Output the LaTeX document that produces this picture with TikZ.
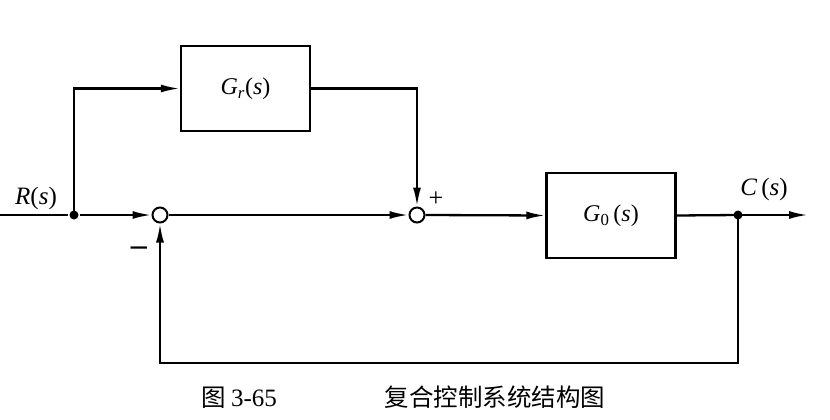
\documentclass[tikz,border=0pt]{standalone}
\usepackage{fontspec}
\newfontfamily\cjk{Noto Sans CJK SC}
\setmainfont{Liberation Serif}
\usetikzlibrary{arrows.meta}
\newcommand{\ivar}[1]{\textit{#1}}
\begin{document}
\begin{tikzpicture}[x=1pt,y=-1pt,line width=2.3pt,
  blk/.style={draw,minimum width=129pt,minimum height=85pt,inner sep=0pt,font=\fontsize{24}{26}\selectfont},
  sumnode/.style={draw,circle,minimum size=15pt,inner sep=0pt,line width=2pt,fill=white},
  dotnode/.style={circle,fill=black,minimum size=9pt,inner sep=0pt},
  lbl/.style={font=\fontsize{25}{27}\selectfont,inner sep=0pt},
  arr/.style={-{Latex[length=19pt,width=8pt]}}]
\useasboundingbox (0,0) rectangle (830,420);
\coordinate (in) at (0,215);
\node[dotnode] (b1) at (74,215) {};
\node[sumnode] (s1) at (160,215) {};
\node[sumnode] (s2) at (417,215) {};
\node[blk] (gr) at (245.5,88.5) {\ivar{G\textsubscript{r}}(\ivar{s})};
\node[blk] (g0) at (611,215.5) {\ivar{G}\textsubscript{0}\,(\ivar{s})};
\node[dotnode] (b2) at (738,215) {};
\coordinate (out) at (808,215);
\coordinate (fb) at (738,363);
\draw (in) -- (b1);
\draw[arr] (b1) -- (s1.west);
\draw[arr] (b1.center) |- (gr.west);
\draw[arr] (gr.east) -| (s2.north);
\draw[arr] (s1.east) -- (s2.west);
\draw[arr] (s2.east) -- (g0.west);
\draw (g0.east) -- (b2.center);
\draw[arr] (b2.center) -- (out);
\draw[arr] (b2.center) -- (fb) -| (s1.south);
\node[lbl] (rl) at (36,198) {\ivar{R}(\ivar{s})};
\node[lbl] (cl) at (764,189) {\ivar{C}\,(\ivar{s})};
\node[lbl,font=\fontsize{32}{34}\selectfont] (mi) at (139,251) {\textbf{–}};
\node[lbl,font=\fontsize{26}{28}\selectfont] (pl) at (436,199) {+};
\node[inner sep=0pt,font=\cjk\fontsize{24.5}{26}\selectfont,anchor=west] (cap) at (200,397) {图 {\rmfamily\fontsize{25}{26}\selectfont 3-65}\hspace{4.4em}复合控制系统结构图};
\end{tikzpicture}
\end{document}
